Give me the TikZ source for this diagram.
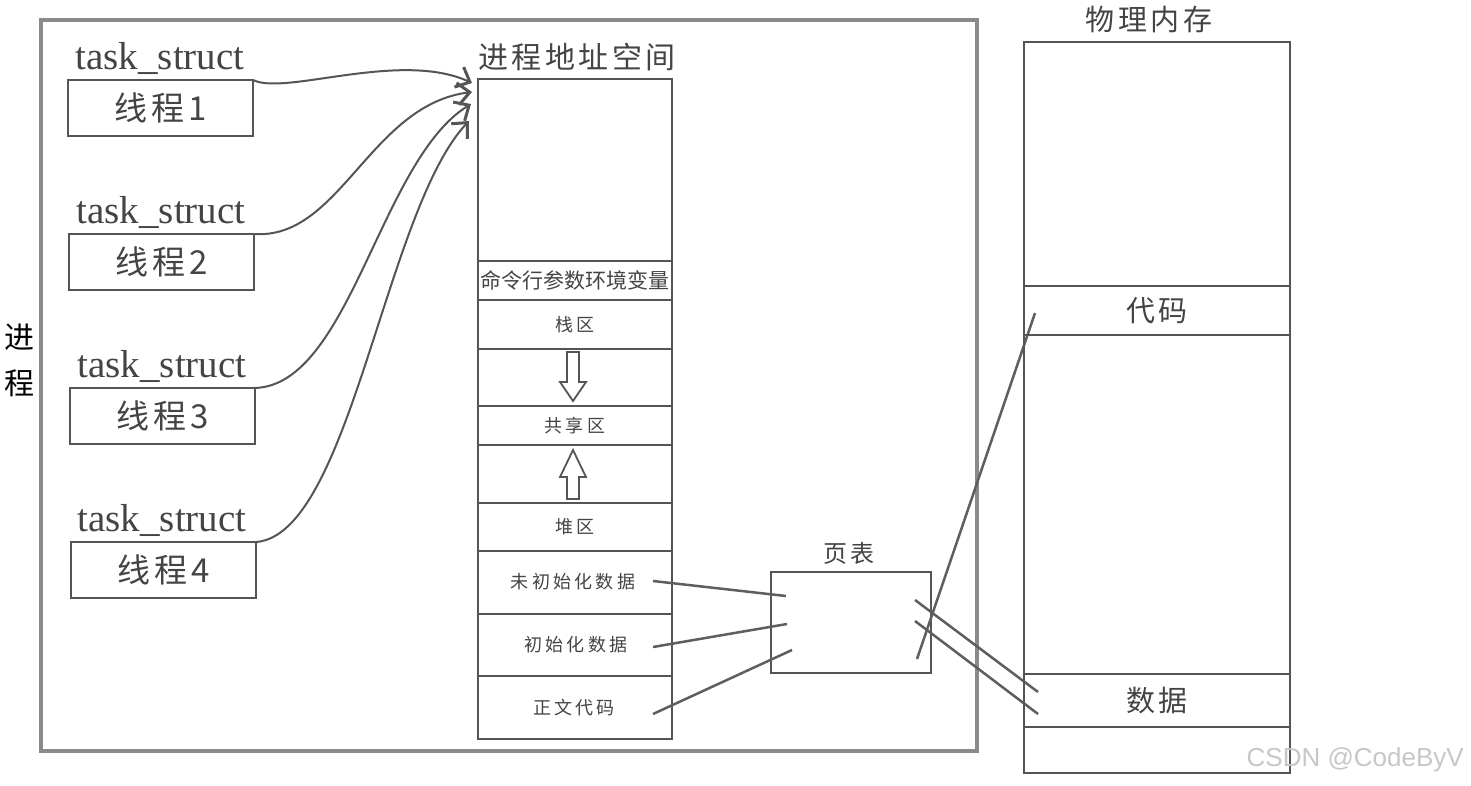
\documentclass[tikz,border=0pt]{standalone}
\usepackage{fontspec}
\setmainfont{Liberation Serif}
\newfontfamily\cjk{Noto Sans CJK SC}
\newfontfamily\cjkw[LetterSpace=12]{Noto Sans CJK SC}
\newfontfamily\cjkr[LetterSpace=18]{Noto Sans CJK SC}
\newfontfamily\wm{Liberation Sans}
\usetikzlibrary{arrows.meta}
\definecolor{ln}{HTML}{555555}
\definecolor{outer}{HTML}{8A8A8A}
\definecolor{txt}{HTML}{444444}
\definecolor{pl}{HTML}{5E5E5E}
\tikzset{
  box/.style={draw=ln, line width=2pt, minimum width=#1, inner sep=0pt, outer sep=0pt, text=txt},
  thr/.style={box=185pt, minimum height=56pt, font=\cjkw\fontsize{33}{34}\selectfont},
  tsk/.style={text=txt, font=\fontsize{39}{40}\selectfont, inner sep=0pt},
  row/.style={box=194pt, minimum height=#1, font=\cjkr\fontsize{18}{20}\selectfont},
  rowtext/.style={inner sep=0pt, text=txt, font=\cjkr\fontsize{18}{20}\selectfont},
  mem/.style={box=266pt, minimum height=#1, font=\cjkw\fontsize{29}{30}\selectfont},
  title/.style={text=txt, inner sep=0pt, font=\cjkw\fontsize{#1}{#1}\selectfont},
  curve/.style={draw=ln, line width=2pt, -{Straight Barb[length=12pt,width=22pt,line width=3pt]}},
  pline/.style={draw=pl, line width=2.5pt},
  hollow/.style={draw=ln, line width=1.8pt, fill=white, line join=miter}
}
\begin{document}
\begin{tikzpicture}[x=1pt,y=-1pt]
\useasboundingbox (0,0) rectangle (1471,786);
\fill[white] (0,0) rectangle (1471,786);
% outer process box
\node[draw=outer, line width=3.5pt, minimum width=936pt, minimum height=731pt, inner sep=0pt] (proc) at (509,385.5) {};
\node[inner sep=0pt, font=\cjk\fontsize{30}{46}\selectfont, align=center] (proclbl) at (20,360) {进\\程};
% threads
\node[thr] (t1) at (160.5,108) {线程1};
\node[thr] (t2) at (161.5,262) {线程2};
\node[thr] (t3) at (162.5,416) {线程3};
\node[thr] (t4) at (163.5,570) {线程4};
\node[tsk] (s1) at (160,58) {task\_struct};
\node[tsk] (s2) at (161,212) {task\_struct};
\node[tsk] (s3) at (162,366) {task\_struct};
\node[tsk] (s4) at (162,520) {task\_struct};
% address space
\node[title=30] (astitle) at (577,57) {进程地址空间};
\node[row=182pt] (atop) at (575,170) {};
\node[row=39pt, font=\cjk\fontsize{21}{22}\selectfont] (args) at (575,280.5) {命令行参数环境变量};
\node[row=49pt] (stack) at (575,324.5) {栈区};
\node[row=57pt] (gap1) at (575,377.5) {};
\node[row=39pt] (shared) at (575,425.5) {共享区};
\node[row=58pt] (gap2) at (575,474) {};
\node[row=48pt] (heap) at (575,527) {堆区};
\node[row=63pt] (bss) at (575,582.5) {};
\node[rowtext] (bsst) at (573,582) {未初始化数据};
\node[row=62pt] (data) at (575,645) {};
\node[rowtext] (datat) at (576,645) {初始化数据};
\node[row=63pt] (text) at (575,707.5) {};
\node[rowtext] (textt) at (574,708) {正文代码};
% hollow arrows
\draw[hollow] (567,352) -- (579,352) -- (579,382) -- (586,382) -- (573,401) -- (560,382) -- (567,382) -- cycle;
\draw[hollow] (567,499) -- (579,499) -- (579,477) -- (586,477) -- (573,450) -- (560,477) -- (567,477) -- cycle;
% curves
\coordinate (h1) at (472,83);
\coordinate (h2) at (472,92);
\coordinate (h3) at (471,104);
\coordinate (h4) at (469,121);
\draw[curve] (t1.north east) .. controls (285,96) and (400,50) .. (h1);
\draw[curve] (t2.north east) .. controls (340,240) and (370,105) .. (h2);
\draw[curve] (t3.north east) .. controls (350,385) and (380,160) .. (h3);
\draw[curve] (t4.north east) .. controls (350,535) and (385,210) .. (h4);
% page table
\node[title=24] (pttitle) at (849,553) {页表};
\node[box=160pt, minimum height=101pt] (pt) at (851,622.5) {};
\coordinate (a1) at (653,581); \coordinate (b1) at (786,596);
\coordinate (a2) at (653,647); \coordinate (b2) at (787,624);
\coordinate (a3) at (653,714); \coordinate (b3) at (792,650);
\draw[pline] (a1) -- (b1);
\draw[pline] (a2) -- (b2);
\draw[pline] (a3) -- (b3);
\coordinate (c1) at (917,659); \coordinate (d1) at (1035,313);
\coordinate (c2) at (915,600); \coordinate (d2) at (1038,692);
\coordinate (c3) at (915,621); \coordinate (d3) at (1038,714);
\draw[pline] (c1) -- (d1);
\draw[pline] (c2) -- (d2);
\draw[pline] (c3) -- (d3);
% physical memory
\node[title=29] (pmtitle) at (1149,20) {物理内存};
\node[mem=244pt] (ptop) at (1157,164) {};
\node[mem=49pt] (pcode) at (1157,310.5) {代码};
\node[mem=339pt] (pmid) at (1157,504.5) {};
\node[mem=53pt] (pdata) at (1157,700.5) {数据};
\node[mem=46pt] (pbot) at (1157,750) {};
% watermark
\node[anchor=east, inner sep=0pt, text=black!22, font=\wm\fontsize{26}{30}\selectfont] (wmark) at (1464,760) {CSDN @CodeByV};
\end{tikzpicture}
\end{document}
